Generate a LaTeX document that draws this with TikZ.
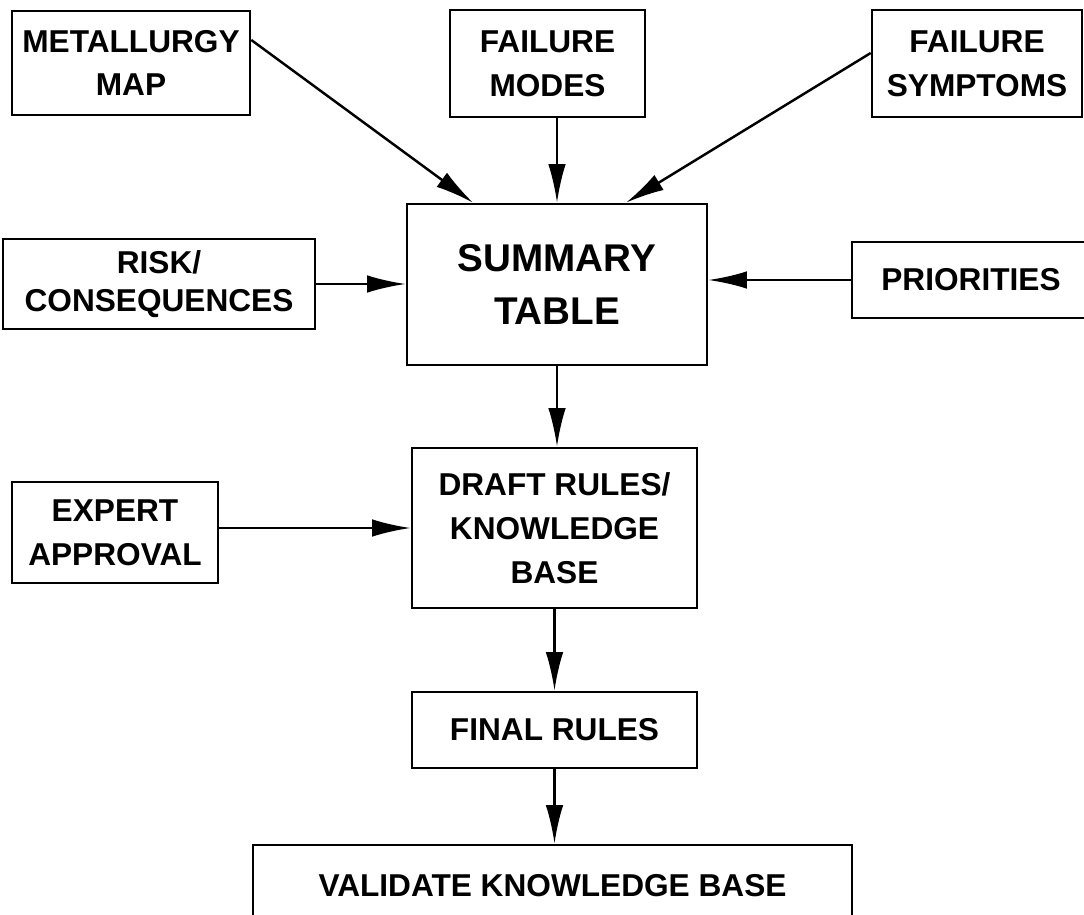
\documentclass[tikz,border=0pt]{standalone}
\usepackage{fontspec}
\setmainfont{Liberation Sans}
\usetikzlibrary{arrows.meta}

\tikzset{
  blk/.style={draw, line width=1.5pt, align=center, inner sep=0pt,
    font=\bfseries\fontsize{18}{25}\selectfont},
  flow/.style={-{Latex[length=22pt,width=10pt]}, line width=1.4pt}
}

\begin{document}
\begin{tikzpicture}[x=0.02cm,y=-0.02cm]
        \useasboundingbox (0,0) rectangle (1084,915);
        % inputs on top
        \node[blk, minimum width=4.76cm, minimum height=2.08cm] (metal) at (131,63) {METALLURGY\\MAP};
        \node[blk, minimum width=3.9cm, minimum height=2.14cm] (modes) at (547.5,63.5) {FAILURE\\MODES};
        \node[blk, minimum width=4.2cm, minimum height=2.14cm] (sympt) at (977,63.5) {FAILURE\\SYMPTOMS};
        % summary row
        \node[blk, minimum width=6cm, minimum height=3.22cm,
              font=\bfseries\fontsize{22}{30}\selectfont] (summary) at (557,284.5) {SUMMARY\\TABLE};
        \node[blk, minimum width=6.24cm, minimum height=1.8cm,
              font=\bfseries\fontsize{18}{22}\selectfont] (risk) at (159,284) {RISK/\\CONSEQUENCES};
        \node[blk, minimum width=4.76cm, minimum height=1.52cm] (prior) at (971,280) {PRIORITIES};
        % rules
        \node[blk, minimum width=5.7cm, minimum height=3.2cm] (draft) at (554.5,528) {DRAFT RULES/\\KNOWLEDGE\\BASE};
        \node[blk, minimum width=4.12cm, minimum height=2.02cm] (expert) at (115,532.5) {EXPERT\\APPROVAL};
        \node[blk, minimum width=5.7cm, minimum height=1.52cm] (final) at (554.5,730) {FINAL RULES};
        \node[blk, minimum width=11.98cm, minimum height=1.64cm] (valid) at (552.5,886) {VALIDATE KNOWLEDGE BASE};
        % connectors
        \draw[flow] ([yshift=0.46cm]metal.east) -- ([xshift=-1.68cm]summary.north);
        \draw[flow] (summary.north |- modes.south) -- (summary.north);
        \draw[flow] ([yshift=0.21cm]sympt.west) -- ([xshift=1.38cm]summary.north);
        \draw[flow] (risk.east) -- (risk.east -| summary.west);
        \draw[flow] (prior.west) -- (prior.west -| summary.east);
        \draw[flow] (summary.south) -- (summary.south |- draft.north);
        \draw[flow] (expert.east |- draft.west) -- (draft.west);
        \draw[flow] (draft.south) -- (final.north);
        \draw[flow] (final.south) -- (final.south |- valid.north);
\end{tikzpicture}
\end{document}
